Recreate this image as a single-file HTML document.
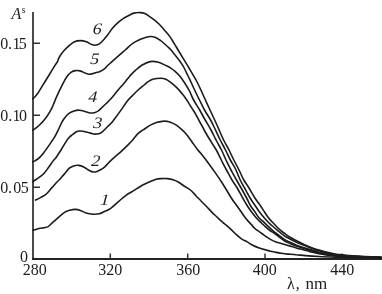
<!DOCTYPE html>
<html><head><meta charset="utf-8"><style>
html,body{margin:0;padding:0;background:#fff;}
svg{display:block;will-change:transform;}
</style></head><body>
<svg width="382" height="294" viewBox="0 0 382 294">
<path d="M33,12 V259" stroke="#4a4a4a" stroke-width="2" fill="none"/>
<path d="M32,259 H382" stroke="#232323" stroke-width="2" fill="none"/>
<g stroke="#333" stroke-width="1.5" fill="none">
<path d="M33,43.3 H40 M33,115.3 H40 M33,187.2 H40"/>
<path d="M110.3,259 V253.5 M187.7,259 V253.5 M265,259 V253.5 M342.2,259 V253.5"/>
</g>
<g fill="none" stroke="#1c1c1c" stroke-width="1.6" stroke-linejoin="round" stroke-linecap="round">
<path d="M33.1,230.3 C34.2,230.0 38.2,228.7 40.0,228.3 C41.8,227.9 42.7,228.0 44.1,227.7 C45.5,227.4 46.9,227.4 48.2,226.6 C49.6,225.8 50.6,224.3 52.2,222.9 C53.8,221.5 55.7,219.8 57.7,218.1 C59.8,216.3 62.5,213.7 64.5,212.4 C66.5,211.1 68.2,210.7 70.0,210.2 C71.8,209.7 73.7,209.3 75.4,209.4 C77.1,209.5 78.7,209.9 80.4,210.5 C82.2,211.1 83.9,212.3 85.9,212.9 C88.0,213.5 90.4,214.0 92.7,214.2 C95.0,214.3 97.5,214.3 99.5,213.8 C101.5,213.3 103.1,212.2 104.9,211.3 C106.7,210.4 108.7,209.8 110.4,208.6 C112.2,207.4 113.7,205.8 115.4,204.3 C117.2,202.8 119.1,201.0 120.9,199.5 C122.7,198.0 124.5,196.5 126.3,195.2 C128.1,193.9 130.0,192.9 131.8,191.8 C133.6,190.7 135.4,189.5 137.2,188.4 C139.0,187.3 140.6,186.1 142.7,185.0 C144.8,183.9 147.9,182.7 150.0,181.8 C152.1,180.9 153.6,179.9 155.4,179.4 C157.2,178.9 158.9,178.7 160.9,178.6 C162.9,178.5 165.7,178.4 167.7,178.6 C169.7,178.8 171.3,179.1 173.1,179.7 C174.9,180.3 176.8,181.1 178.6,182.2 C180.4,183.2 182.0,184.7 184.0,186.0 C186.0,187.3 188.4,188.4 190.4,190.0 C192.4,191.6 194.1,193.8 195.9,195.7 C197.7,197.6 199.5,199.3 201.3,201.2 C203.1,203.0 205.0,204.9 206.8,206.8 C208.6,208.7 210.4,210.8 212.2,212.6 C214.0,214.4 215.9,215.9 217.7,217.6 C219.5,219.3 221.8,221.4 223.1,222.6 C224.4,223.8 224.1,223.4 225.4,224.5 C226.7,225.6 229.1,227.6 230.9,229.3 C232.7,231.0 234.5,232.9 236.3,234.6 C238.1,236.2 240.0,238.0 241.8,239.2 C243.6,240.4 245.4,240.9 247.2,241.9 C249.0,242.9 250.6,244.1 252.7,245.2 C254.8,246.3 257.9,247.5 260.0,248.3 C262.1,249.1 263.7,249.3 265.5,249.8 C267.3,250.3 269.0,250.8 270.7,251.2 C272.4,251.6 274.1,252.1 275.9,252.4 C277.6,252.8 279.2,253.0 281.2,253.3 C283.2,253.6 285.5,253.9 288.0,254.1 C290.5,254.3 293.1,254.4 296.0,254.7 C298.9,254.9 301.5,255.3 305.3,255.6 C309.1,255.9 313.2,256.2 319.0,256.5 C324.8,256.8 333.2,257.0 340.0,257.2 C346.8,257.4 353.2,257.5 360.0,257.6 C366.8,257.7 377.5,257.8 381.0,257.8"/>
<path d="M35.5,200.1 C36.4,199.7 39.1,198.4 40.9,197.4 C42.7,196.4 44.5,195.6 46.3,194.0 C48.1,192.4 50.0,189.9 51.8,187.9 C53.6,185.9 55.8,183.3 57.2,181.8 C58.6,180.3 58.7,180.6 60.0,179.1 C61.3,177.6 63.5,174.9 65.1,173.1 C66.6,171.3 67.9,169.4 69.3,168.2 C70.7,167.0 72.0,166.4 73.6,165.9 C75.2,165.4 77.0,165.2 78.7,165.4 C80.4,165.6 82.1,166.2 83.8,167.0 C85.5,167.8 87.4,169.4 88.9,170.2 C90.5,171.0 91.8,171.8 93.1,172.0 C94.4,172.2 95.8,171.9 97.0,171.5 C98.2,171.1 99.3,170.5 100.5,169.8 C101.7,169.1 103.0,168.3 104.2,167.3 C105.4,166.3 106.4,165.2 107.5,164.0 C108.6,162.8 109.5,161.8 111.0,160.4 C112.5,159.0 114.5,157.2 116.3,155.6 C118.1,154.0 120.0,152.6 121.8,150.9 C123.6,149.2 125.4,147.4 127.2,145.6 C129.0,143.8 130.9,142.1 132.7,140.0 C134.5,137.9 136.4,135.0 138.2,133.3 C140.0,131.6 141.6,131.1 143.6,129.7 C145.6,128.3 148.1,126.3 150.4,125.1 C152.7,123.9 155.1,122.9 157.2,122.3 C159.2,121.7 161.1,121.5 162.7,121.3 C164.3,121.1 165.4,121.1 166.7,121.3 C168.0,121.5 168.9,121.6 170.4,122.2 C171.9,122.8 174.1,123.7 175.9,124.9 C177.7,126.1 179.5,127.5 181.3,129.2 C183.1,130.8 185.0,132.6 186.8,134.8 C188.6,137.0 190.4,139.7 192.2,142.2 C194.0,144.7 196.1,147.8 197.7,149.8 C199.3,151.9 200.0,152.2 201.8,154.5 C203.6,156.8 206.3,160.3 208.6,163.4 C210.9,166.5 213.1,169.6 215.4,172.9 C217.7,176.2 220.1,179.7 222.2,183.0 C224.3,186.3 226.4,189.8 228.0,192.5 C229.6,195.2 230.7,197.0 232.0,199.0 C233.3,201.0 234.6,202.5 236.0,204.5 C237.4,206.5 238.8,208.5 240.4,210.8 C242.1,213.2 244.2,216.4 245.9,218.6 C247.6,220.8 249.1,222.2 250.7,223.9 C252.3,225.6 253.9,227.7 255.4,229.0 C256.9,230.3 258.2,230.9 259.5,231.8 C260.8,232.7 262.0,233.6 263.4,234.6 C264.8,235.6 266.2,236.7 267.6,237.6 C269.0,238.5 270.4,239.4 271.8,240.1 C273.2,240.8 274.3,241.3 275.9,241.9 C277.5,242.5 279.4,243.0 281.2,243.5 C282.9,244.0 284.7,244.5 286.4,245.0 C288.1,245.5 289.8,246.0 291.6,246.5 C293.4,247.0 294.9,247.6 297.0,248.2 C299.1,248.8 301.8,249.3 304.0,249.9 C306.2,250.5 307.5,251.0 310.0,251.6 C312.5,252.2 315.0,252.9 319.0,253.6 C323.0,254.3 328.8,255.3 334.0,255.8 C339.2,256.3 344.7,256.5 350.0,256.7 C355.3,256.9 360.8,257.1 366.0,257.2 C371.2,257.3 378.5,257.4 381.0,257.5"/>
<path d="M32.7,181.8 C33.4,181.3 35.4,179.9 36.8,179.0 C38.2,178.1 39.5,177.3 40.9,176.2 C42.3,175.1 43.6,173.8 45.0,172.2 C46.4,170.6 47.6,168.7 49.0,166.8 C50.4,164.9 52.0,162.4 53.1,160.9 C54.2,159.4 54.5,159.6 55.9,157.7 C57.3,155.8 59.5,152.3 61.3,149.5 C63.1,146.7 65.2,142.8 66.7,140.6 C68.2,138.4 69.0,137.6 70.0,136.6 C71.0,135.6 71.7,135.3 72.7,134.5 C73.7,133.7 74.9,132.6 76.0,132.0 C77.1,131.4 78.3,131.1 79.5,131.0 C80.7,130.9 81.9,131.0 83.0,131.2 C84.1,131.4 84.9,131.7 86.3,132.1 C87.7,132.5 89.8,133.1 91.3,133.4 C92.8,133.7 93.8,134.1 95.0,134.1 C96.2,134.1 97.6,134.0 98.7,133.7 C99.8,133.4 100.6,133.0 101.6,132.3 C102.6,131.6 103.4,130.8 104.5,129.7 C105.6,128.6 107.0,127.2 108.2,126.0 C109.5,124.8 111.0,123.5 112.0,122.3 C113.0,121.1 113.0,121.0 114.5,119.0 C116.0,117.0 118.7,113.4 120.8,110.4 C122.9,107.4 125.2,103.7 127.2,101.2 C129.2,98.7 130.9,97.3 132.7,95.4 C134.5,93.5 136.2,91.7 138.1,90.0 C140.0,88.3 142.4,86.4 144.1,85.0 C145.8,83.6 146.6,82.6 148.2,81.6 C149.8,80.6 151.6,79.7 153.6,79.1 C155.6,78.5 158.3,78.2 160.4,78.2 C162.5,78.2 164.1,78.4 165.9,79.2 C167.7,80.0 169.7,81.6 171.3,82.8 C172.9,84.0 174.1,85.1 175.4,86.3 C176.7,87.5 178.0,88.9 179.1,90.1 C180.2,91.3 181.1,92.4 182.1,93.7 C183.1,95.0 184.2,96.3 185.2,97.7 C186.2,99.1 187.3,100.7 188.3,102.3 C189.3,103.9 190.3,105.8 191.3,107.4 C192.3,109.0 193.5,110.6 194.4,112.0 C195.3,113.4 195.8,114.6 196.6,116.0 C197.4,117.4 197.6,117.9 199.0,120.5 C200.4,123.1 203.2,128.2 205.0,131.5 C206.8,134.8 208.1,136.9 210.0,140.0 C211.9,143.1 214.4,146.7 216.3,150.0 C218.2,153.3 219.6,156.7 221.3,160.0 C223.0,163.3 224.7,166.7 226.5,170.0 C228.3,173.3 230.2,177.0 232.0,180.0 C233.8,183.0 235.4,185.0 237.2,188.0 C239.0,191.0 241.0,195.0 242.7,198.0 C244.4,201.0 245.8,203.6 247.4,206.0 C249.0,208.4 250.5,210.5 252.0,212.5 C253.5,214.5 254.8,216.2 256.4,218.0 C258.0,219.8 260.1,221.6 261.5,223.0 C262.9,224.4 263.6,225.2 265.0,226.4 C266.4,227.7 268.2,229.2 270.0,230.5 C271.8,231.8 273.7,232.8 276.0,234.5 C278.3,236.2 281.7,239.0 284.0,240.5 C286.3,242.0 287.8,242.5 290.0,243.5 C292.2,244.5 294.7,245.5 297.0,246.3 C299.3,247.1 300.5,247.4 304.0,248.5 C307.5,249.6 313.0,251.4 318.0,252.6 C323.0,253.8 328.7,254.8 334.0,255.5 C339.3,256.1 344.7,256.2 350.0,256.5 C355.3,256.8 360.8,256.9 366.0,257.1 C371.2,257.3 378.5,257.4 381.0,257.5"/>
<path d="M32.7,161.8 C33.2,161.6 34.3,161.3 35.4,160.6 C36.5,159.9 38.1,158.9 39.5,157.6 C40.9,156.3 42.0,154.9 43.6,152.9 C45.2,150.9 47.2,148.0 49.0,145.4 C50.8,142.8 53.0,139.7 54.5,137.2 C56.0,134.7 56.8,132.8 57.9,130.6 C59.0,128.4 60.1,125.8 61.0,124.0 C61.9,122.2 62.2,121.2 63.5,119.5 C64.8,117.8 66.8,115.0 68.6,113.6 C70.3,112.2 72.2,111.5 74.0,110.9 C75.8,110.3 77.7,110.1 79.5,110.2 C81.3,110.3 83.1,111.0 84.9,111.5 C86.7,112.0 88.7,112.8 90.4,113.0 C92.1,113.2 93.6,112.9 95.0,112.5 C96.4,112.1 97.5,111.4 98.7,110.6 C99.9,109.8 100.9,108.5 102.0,107.5 C103.1,106.5 103.9,105.8 105.4,104.3 C106.9,102.8 108.9,101.1 110.9,98.8 C113.0,96.5 115.4,93.2 117.7,90.5 C120.0,87.8 122.5,85.1 124.5,82.7 C126.5,80.3 128.1,78.0 129.9,75.9 C131.7,73.9 133.4,72.2 135.4,70.4 C137.4,68.6 139.3,66.7 141.8,65.2 C144.3,63.7 147.4,62.1 150.2,61.6 C153.0,61.1 155.7,61.5 158.5,62.2 C161.3,62.9 165.0,65.1 166.9,66.0 C168.8,66.9 168.6,66.7 170.0,67.6 C171.4,68.5 173.4,69.9 175.1,71.4 C176.8,72.9 178.5,74.6 180.2,76.6 C181.8,78.6 183.4,81.1 185.0,83.5 C186.6,85.9 188.1,88.2 189.5,91.0 C190.9,93.8 191.9,96.8 193.6,100.0 C195.3,103.2 197.8,106.7 199.7,110.0 C201.6,113.3 203.3,116.7 205.2,120.0 C207.1,123.3 209.2,126.7 211.0,130.0 C212.8,133.3 214.3,136.7 216.1,140.0 C217.8,143.3 219.8,146.7 221.5,150.0 C223.2,153.3 224.4,156.7 226.0,160.0 C227.6,163.3 229.2,166.7 231.0,170.0 C232.8,173.3 234.8,177.0 236.5,180.0 C238.2,183.0 239.4,185.0 241.1,188.0 C242.8,191.0 245.0,195.0 246.6,198.0 C248.2,201.0 249.3,203.7 250.7,206.0 C252.1,208.3 253.6,210.0 255.0,212.0 C256.4,214.0 257.7,216.3 259.2,218.0 C260.7,219.7 262.5,221.0 264.0,222.4 C265.5,223.8 266.8,225.1 268.2,226.4 C269.6,227.7 271.0,229.0 272.5,230.3 C274.0,231.6 275.1,232.5 277.0,234.0 C278.9,235.5 281.8,237.7 284.0,239.1 C286.2,240.5 287.8,241.2 290.0,242.3 C292.2,243.4 294.7,244.5 297.0,245.4 C299.3,246.3 300.5,246.7 304.0,247.8 C307.5,248.9 313.0,250.8 318.0,252.0 C323.0,253.2 328.7,254.5 334.0,255.2 C339.3,255.9 344.7,256.1 350.0,256.4 C355.3,256.7 360.8,256.8 366.0,257.0 C371.2,257.2 378.5,257.3 381.0,257.4"/>
<path d="M32.7,130.4 C33.2,130.1 34.3,129.3 35.4,128.4 C36.5,127.5 37.9,126.5 39.5,125.0 C41.1,123.5 43.1,121.5 44.8,119.3 C46.5,117.1 48.4,114.1 49.8,111.8 C51.2,109.5 52.0,107.7 53.0,105.5 C54.0,103.3 54.7,101.2 55.7,98.8 C56.7,96.4 57.9,93.9 59.1,91.3 C60.4,88.7 61.9,85.6 63.2,83.1 C64.5,80.6 65.9,78.1 67.2,76.3 C68.5,74.5 69.9,73.2 71.3,72.2 C72.7,71.2 73.9,70.8 75.4,70.6 C76.9,70.4 78.6,70.5 80.2,70.9 C81.8,71.3 83.4,72.3 84.9,72.9 C86.4,73.5 87.6,74.2 89.0,74.3 C90.4,74.4 91.8,73.9 93.1,73.6 C94.3,73.3 95.3,72.8 96.5,72.5 C97.7,72.2 98.8,72.0 100.0,71.5 C101.2,71.0 102.6,70.3 104.0,69.2 C105.4,68.1 106.6,66.5 108.2,65.0 C109.8,63.5 111.8,61.8 113.6,60.2 C115.4,58.6 117.1,57.1 119.0,55.4 C120.9,53.7 122.9,52.0 125.2,50.0 C127.5,48.0 130.2,45.0 132.7,43.3 C135.2,41.5 137.9,40.5 140.0,39.5 C142.1,38.5 143.6,38.0 145.4,37.5 C147.2,37.0 149.3,36.5 150.9,36.5 C152.5,36.5 153.4,36.6 155.0,37.2 C156.6,37.9 158.7,39.2 160.4,40.4 C162.1,41.6 163.9,43.4 165.2,44.5 C166.5,45.6 167.0,46.1 168.0,47.0 C169.0,47.9 169.8,48.6 171.0,50.0 C172.2,51.4 173.7,53.4 175.1,55.1 C176.5,56.8 177.8,58.3 179.2,60.2 C180.6,62.1 182.1,64.3 183.3,66.3 C184.5,68.3 185.3,70.4 186.3,72.4 C187.3,74.5 188.0,75.7 189.4,78.6 C190.8,81.5 192.9,86.4 194.6,90.0 C196.3,93.6 197.8,96.7 199.5,100.0 C201.2,103.3 202.7,106.7 204.5,110.0 C206.3,113.3 208.8,116.7 210.6,120.0 C212.4,123.3 213.9,126.7 215.5,130.0 C217.1,133.3 218.5,136.7 220.2,140.0 C221.9,143.3 223.8,146.7 225.5,150.0 C227.2,153.3 228.7,157.0 230.3,160.0 C231.9,163.0 233.3,164.7 235.0,168.0 C236.7,171.3 238.6,176.7 240.2,180.0 C241.8,183.3 242.9,185.0 244.6,188.0 C246.2,191.0 248.3,195.0 250.1,198.0 C251.9,201.0 253.8,203.7 255.4,206.0 C257.0,208.3 258.0,210.0 259.5,212.0 C261.0,214.0 262.9,216.2 264.4,218.0 C265.9,219.8 267.2,221.2 268.5,222.5 C269.8,223.8 270.8,224.6 272.4,226.0 C274.0,227.4 276.1,229.2 278.0,230.8 C279.9,232.4 282.0,234.2 284.0,235.6 C286.0,237.0 287.8,237.8 290.0,239.0 C292.2,240.2 294.7,241.4 297.0,242.5 C299.3,243.6 300.5,244.0 304.0,245.3 C307.5,246.6 313.0,249.0 318.0,250.5 C323.0,252.0 328.7,253.6 334.0,254.5 C339.3,255.4 344.7,255.6 350.0,256.0 C355.3,256.4 360.8,256.6 366.0,256.8 C371.2,257.0 378.5,257.2 381.0,257.3"/>
<path d="M32.7,98.9 C33.2,98.5 34.6,97.2 35.5,96.2 C36.4,95.2 36.9,94.8 38.2,92.7 C39.6,90.7 41.8,86.9 43.6,83.9 C45.4,81.0 47.3,78.0 49.1,75.0 C50.9,72.0 53.1,68.3 54.5,66.1 C55.9,63.9 56.5,63.4 57.3,62.0 C58.1,60.6 58.1,59.2 59.1,57.5 C60.1,55.8 61.6,53.4 63.2,51.5 C64.8,49.6 66.8,47.7 68.6,46.1 C70.4,44.5 72.1,42.9 74.0,42.0 C75.9,41.1 78.2,40.6 80.2,40.6 C82.2,40.6 84.4,41.1 86.3,41.8 C88.2,42.5 90.2,44.0 91.7,44.6 C93.2,45.2 94.0,45.3 95.0,45.3 C96.0,45.3 97.1,45.0 98.0,44.6 C98.9,44.2 99.5,43.9 100.5,43.0 C101.5,42.1 102.8,40.8 104.1,39.3 C105.4,37.8 106.8,36.1 108.2,34.3 C109.6,32.5 110.6,30.3 112.2,28.4 C113.8,26.5 115.8,24.6 117.7,22.9 C119.6,21.2 121.9,19.5 123.8,18.2 C125.7,16.9 127.6,16.1 129.3,15.2 C131.0,14.3 132.2,13.5 134.0,13.1 C135.8,12.7 138.2,12.5 140.0,12.6 C141.8,12.7 143.4,12.9 144.8,13.4 C146.2,13.9 146.7,14.6 148.2,15.6 C149.7,16.6 151.8,17.9 153.6,19.3 C155.4,20.7 157.2,22.2 159.0,24.0 C160.8,25.8 162.7,28.1 164.5,30.2 C166.3,32.3 168.3,34.4 169.9,36.6 C171.5,38.8 172.4,40.5 174.1,43.3 C175.8,46.1 178.1,50.1 180.2,53.5 C182.2,56.9 184.4,60.3 186.4,63.7 C188.4,67.1 190.6,70.7 192.3,73.7 C194.0,76.7 195.4,78.8 196.8,81.5 C198.2,84.2 199.5,86.9 200.9,90.0 C202.3,93.1 203.9,96.7 205.4,100.0 C206.9,103.3 208.3,106.3 210.0,110.0 C211.7,113.7 213.9,118.3 215.6,122.0 C217.3,125.7 218.7,129.0 220.0,132.0 C221.3,135.0 222.1,137.0 223.6,140.0 C225.1,143.0 227.3,146.7 229.0,150.0 C230.7,153.3 232.1,156.7 233.8,160.0 C235.5,163.3 237.3,166.7 239.0,170.0 C240.7,173.3 242.1,177.0 243.8,180.0 C245.5,183.0 247.2,185.0 249.0,188.0 C250.8,191.0 253.0,195.0 254.9,198.0 C256.8,201.0 259.0,203.7 260.6,206.0 C262.2,208.3 263.2,210.0 264.5,212.0 C265.8,214.0 267.3,216.3 268.6,218.0 C269.9,219.7 271.3,221.0 272.5,222.3 C273.7,223.6 274.8,224.8 276.0,226.0 C277.2,227.2 278.7,228.6 280.0,229.8 C281.3,231.0 282.3,231.8 284.0,233.0 C285.7,234.2 287.8,236.0 290.0,237.3 C292.2,238.6 294.7,239.8 297.0,241.0 C299.3,242.2 300.5,242.9 304.0,244.4 C307.5,245.9 313.0,248.2 318.0,249.8 C323.0,251.4 328.7,252.8 334.0,253.8 C339.3,254.8 344.7,255.1 350.0,255.6 C355.3,256.1 360.8,256.3 366.0,256.6 C371.2,256.9 378.5,257.1 381.0,257.2"/>
</g>
<g font-family="'Liberation Serif', serif" font-size="16" fill="#1c1c1c">
<text y="48.8"><tspan x="0.2">0</tspan><tspan x="7.95">.</tspan><tspan x="12.5">1</tspan><tspan x="18.8">5</tspan></text>
<text y="120.9"><tspan x="0.2">0</tspan><tspan x="8.2">.</tspan><tspan x="12.5">1</tspan><tspan x="19.05">0</tspan></text>
<text y="192.9"><tspan x="0.2">0</tspan><tspan x="7.95">.</tspan><tspan x="13.25">0</tspan><tspan x="20.65">5</tspan></text>
<text x="19.95" y="261.8">0</text>
<text x="22.65" y="275">280</text>
<text x="98.2" y="275">320</text>
<text x="176.25" y="275">360</text>
<text x="252.8" y="275">400</text>
<text x="330.35" y="275">440</text>
<text x="287.1" y="289">λ</text>
<text x="295.85" y="289">,</text>
<text x="305.5" y="289" font-size="17">nm</text>
<text x="11.6" y="18.7" font-style="italic">A</text>
<text transform="translate(21.8,12.8) scale(0.88,1)" font-size="10.5">s</text>
</g>
<g font-family="'Liberation Serif', serif" font-size="16" font-style="italic" fill="#1c1c1c">
<text transform="translate(100.05,204.5) skewX(-4) scale(1.12,1)">1</text>
<text transform="translate(91.08,165.6) skewX(-4) scale(1.12,1)">2</text>
<text transform="translate(92.90,127.9) skewX(-4) scale(1.12,1)">3</text>
<text transform="translate(88.03,101.6) skewX(-4) scale(1.12,1)">4</text>
<text transform="translate(90.10,63.9) skewX(-4) scale(1.12,1)">5</text>
<text transform="translate(92.58,34.2) skewX(-4) scale(1.12,1)">6</text>
</g>
</svg>
</body></html>
